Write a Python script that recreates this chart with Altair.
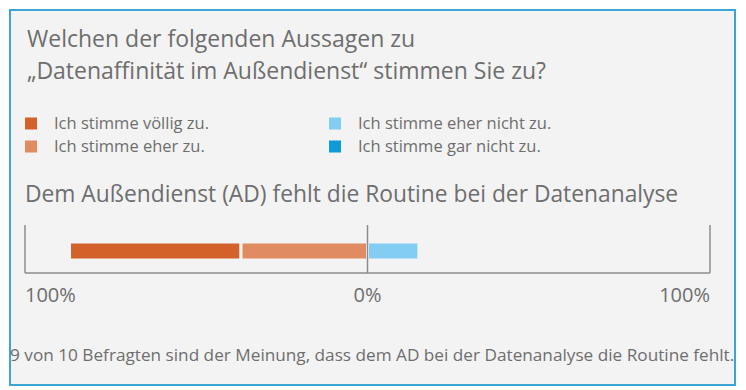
import altair as alt
import pandas as pd

# ---- data ----
categories = ["Ich stimme völlig zu.", "Ich stimme eher zu.",
              "Ich stimme eher nicht zu.", "Ich stimme gar nicht zu."]
values = [50, 37, 15, 0]
sides = [-1, -1, 1, 1]
colors = ["#d2612a", "#e08b61", "#84cdf2", "#0d9ad9"]
tick_values = [-100, 0, 100]
tick_labels = ["100%", "0%", "100%"]
tick_aligns = ["left", "center", "right"]
title_lines = ["Welchen der folgenden Aussagen zu",
               "\u201eDatenaffinit\u00e4t im Au\u00dfendienst\u201c stimmen Sie zu?"]
statement = "Dem Außendienst (AD) fehlt die Routine bei der Datenanalyse"
footer = "9 von 10 Befragten sind der Meinung, dass dem AD bei der Datenanalyse die Routine fehlt."

FONT = "Open Sans"
TXT = "#6e6e6e"
AXIS = "#8c8c8c"
BG = "#f3f3f3"

# ---- stacked diverging segments ----
rows = []
neg = 0
pos = 0
# negatives stack outward from 0 (closest to zero = last negative category)
neg_items = [(c, v) for c, v, s in zip(categories, values, sides) if s < 0]
for c, v in reversed(neg_items):
    rows.append({"cat": c, "start": neg - v, "end": neg})
    neg -= v
for c, v, s in zip(categories, values, sides):
    if s > 0:
        rows.append({"cat": c, "start": pos, "end": pos + v})
        pos += v
bars_df = pd.DataFrame(rows)
bars_df = bars_df[bars_df["end"] - bars_df["start"] > 0]

xscale = alt.Scale(domain=[-100, 100], range=[15, 700])
cscale = alt.Scale(domain=categories, range=colors)

bars = alt.Chart(bars_df).mark_rect(stroke=BG, strokeWidth=3).encode(
    x=alt.X("start:Q", scale=xscale, axis=None),
    x2="end:Q",
    y=alt.value(232), y2=alt.value(250),
    color=alt.Color("cat:N", scale=cscale, legend=None),
)

axis_line = alt.Chart(pd.DataFrame({"a": [tick_values[0]], "b": [tick_values[-1]]})).mark_rule(
    color=AXIS, strokeWidth=1.5).encode(
    x=alt.X("a:Q", scale=xscale, axis=None), x2="b:Q", y=alt.value(263))

ticks = alt.Chart(pd.DataFrame({"v": tick_values})).mark_rule(
    color=AXIS, strokeWidth=1.5).encode(
    x=alt.X("v:Q", scale=xscale, axis=None), y=alt.value(215), y2=alt.value(263))

layers = [bars, ticks, axis_line]

for v, lab, al in zip(tick_values, tick_labels, tick_aligns):
    layers.append(
        alt.Chart(pd.DataFrame({"v": [v], "t": [lab]})).mark_text(
            align=al, baseline="middle", font=FONT, fontSize=20, color=TXT).encode(
            x=alt.X("v:Q", scale=xscale, axis=None), y=alt.value(286), text="t:N"))

def text_layer(t, x, y, size):
    return alt.Chart(pd.DataFrame({"t": [t]})).mark_text(
        align="left", baseline="middle", font=FONT, fontSize=size, color=TXT).encode(
        x=alt.value(x), y=alt.value(y), text="t:N")

layers.append(text_layer(title_lines[0], 17, 30, 23))
layers.append(text_layer(title_lines[1], 17, 62, 23))
layers.append(text_layer(statement, 15, 185, 22.8))
layers.append(text_layer(footer, 0, 346, 17.2))

# legend
leg_x = [15, 15, 319, 319]
leg_y = [113.5, 136.5, 113.5, 136.5]
for cat, col, lx, ly in zip(categories, colors, leg_x, leg_y):
    layers.append(alt.Chart(pd.DataFrame({"c": [cat]})).mark_rect(color=col).encode(
        x=alt.value(lx), x2=alt.value(lx + 12), y=alt.value(ly - 6), y2=alt.value(ly + 6)))
    layers.append(text_layer(cat, lx + 29, ly, 16.5))

chart = alt.layer(*layers).properties(
    width=725, height=375,
    padding={"left": 2, "top": 2, "right": 2, "bottom": 2},
    autosize=alt.AutoSizeParams(type="none"),
    background="white",
).configure_view(fill=BG, stroke="#3ba5d4", strokeWidth=2)

chart.save("out.html", embed_options={"renderer": "svg", "actions": False})
